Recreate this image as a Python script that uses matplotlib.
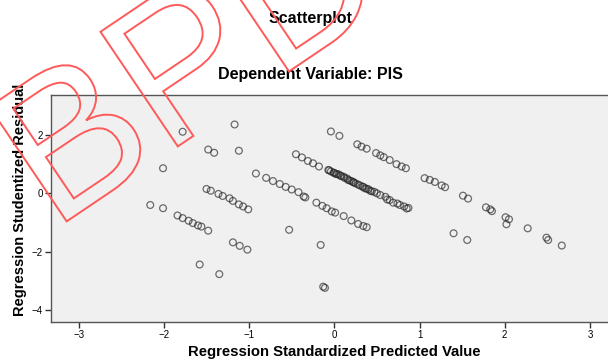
import matplotlib.pyplot as plt
from matplotlib.textpath import TextPath
from matplotlib.patches import PathPatch
from matplotlib.font_manager import FontProperties
from matplotlib.transforms import Affine2D

plt.rcParams['font.family'] = ['Liberation Sans', 'DejaVu Sans']

# regression standardized predicted value (x) / studentized residual (y)
pred = [
    # scattered points, left side
    -1.78, -1.17, -1.48, -1.41, -1.12, -2.01, -2.16, -2.01,
    # band 1
    -1.84, -1.78, -1.71, -1.66, -1.60, -1.56, -1.48,
    # band 2
    -1.50, -1.45, -1.36, -1.31, -1.23, -1.19, -1.12, -1.07, -1.01,
    # band 3
    -0.92, -0.80, -0.72, -0.64, -0.57, -0.50, -0.42, -0.36, -0.34,
    # band 4 (dense)
    -0.45, -0.38, -0.31, -0.25, -0.18, -0.07, -0.04, -0.01, 0.02, 0.05,
    0.07, 0.11, 0.15, 0.16, 0.20, 0.22, 0.25, 0.30, 0.34, 0.36,
    0.40, 0.42, 0.47, 0.50, 0.54, 0.60, 0.62, 0.65, 0.69, 0.74,
    0.77, 0.82, 0.85, 0.87,
    -0.06, 0.00, 0.03, 0.08, 0.12, 0.18, 0.23, 0.28, 0.33, 0.38, 0.44,
    # band 5
    -0.21, -0.14, -0.09, -0.03, 0.01, 0.11, 0.20, 0.28, 0.34, 0.38,
    # band 6 (upper right)
    -0.04, 0.06,
    0.27, 0.32, 0.38, 0.49, 0.54, 0.58, 0.65, 0.73, 0.79, 0.84,
    1.06, 1.12, 1.18, 1.26, 1.30,
    1.51, 1.57, 1.78, 1.83, 1.85,
    2.01, 2.05, 2.02, 2.27, 2.49, 2.51, 2.67,
    # lower scattered points
    -0.53, -1.19, -1.11, -1.02, -0.16, -1.58, -1.35, -0.13, -0.11,
    1.40, 1.56,
]
resid = [
    2.11, 2.36, 1.50, 1.39, 1.46, 0.86, -0.40, -0.51,
    -0.76, -0.85, -0.94, -1.02, -1.10, -1.14, -1.28,
    0.15, 0.09, -0.02, -0.09, -0.17, -0.26, -0.38, -0.45, -0.55,
    0.68, 0.53, 0.42, 0.32, 0.22, 0.13, 0.04, -0.11, -0.14,
    1.34, 1.23, 1.11, 1.03, 0.92, 0.80, 0.75, 0.71, 0.66, 0.65,
    0.61, 0.57, 0.51, 0.46, 0.42, 0.39, 0.34, 0.27, 0.22, 0.17,
    0.14, 0.09, 0.05, 0.00, -0.06, -0.12, -0.21, -0.23, -0.32, -0.35,
    -0.40, -0.45, -0.52, -0.50,
    0.79, 0.70, 0.66, 0.59, 0.53, 0.44, 0.37, 0.30, 0.23, 0.16, 0.07,
    -0.32, -0.43, -0.51, -0.62, -0.66, -0.78, -0.93, -1.05, -1.12, -1.16,
    2.12, 1.97,
    1.68, 1.60, 1.53, 1.38, 1.30, 1.24, 1.14, 1.00, 0.92, 0.86,
    0.52, 0.46, 0.39, 0.27, 0.21,
    -0.08, -0.18, -0.48, -0.55, -0.61,
    -0.82, -0.89, -1.06, -1.20, -1.52, -1.60, -1.79,
    -1.25, -1.68, -1.80, -1.93, -1.77, -2.44, -2.77, -3.20, -3.24,
    -1.37, -1.60,
]
x_ticks = [-3, -2, -1, 0, 1, 2, 3]
y_ticks = [-4, -2, 0, 2]
watermark = "BPD"

W, H = 608, 359
fig = plt.figure(figsize=(W / 100, H / 100), dpi=100)
ax = fig.add_axes([51 / W, 37 / H, 566.6 / W, 227 / H])
ax.set_facecolor('#f0f0f0')

ax.scatter(pred, resid, s=24, facecolors='none', edgecolors='#222222',
           linewidths=0.9, alpha=0.65, zorder=3)

ax.set_xlim(-3.325, 3.325)
ax.set_ylim(-4.41, 3.37)
ax.set_xticks(x_ticks)
ax.set_yticks(y_ticks)
ax.tick_params(labelsize=7, length=4, width=1, color='#333333', pad=2)
for s in ax.spines.values():
    s.set_color('#555555')
    s.set_linewidth(1.0)

ax.set_xlabel("Regression Standardized Predicted Value", fontsize=10.7,
              fontweight='bold')
ax.xaxis.set_label_coords(0.5, -0.10)
ax.set_ylabel("Regression Studentized Residual", fontsize=10.5,
              fontweight='bold')
ax.yaxis.set_label_coords(-0.042, 0.54)

fig.text(310 / W, 1 - 18 / H, "Scatterplot", ha='center', va='center',
         fontsize=11.5, fontweight='bold')
fig.text(310 / W, 1 - 75 / H, "Dependent Variable: PIS", ha='center',
         va='center', fontsize=11.5, fontweight='bold')

# red outlined watermark
tp = TextPath((0, 0), watermark, size=201,
              prop=FontProperties(family='Liberation Sans'))
trans = Affine2D().rotate_deg(34).translate(53, 128.4).scale(1 / 100) + fig.dpi_scale_trans
fig.add_artist(PathPatch(tp, facecolor='none', edgecolor='#ff5a5a', lw=1.4,
                         transform=trans, zorder=10))

fig.savefig("out.png", dpi=100)
